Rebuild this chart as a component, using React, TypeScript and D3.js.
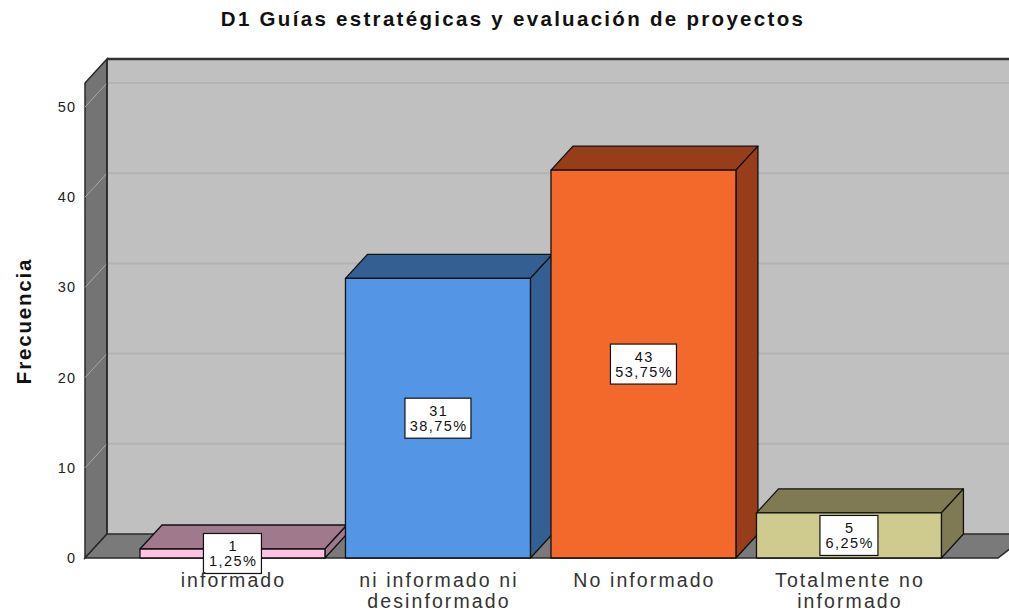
import * as d3 from "d3";

const categories = ["informado", "ni informado ni desinformado", "No informado", "Totalmente no informado"];
const labelLines = [["informado"], ["ni informado ni", "desinformado"], ["No informado"], ["Totalmente no", "informado"]];
const counts = [1, 31, 43, 5];
const percents = ["1,25%", "38,75%", "53,75%", "6,25%"];
const yTicks = [0, 10, 20, 30, 40, 50];
const frontColors = ["#ffc2e2", "#5595e6", "#f2692b", "#cfca8e"];
const shadeColors = ["#a07a8c", "#335f93", "#983d1a", "#7f7a53"];

const W = 1009;
const H = 615;
const DX = 22;
const DY = -24;

export default function App() {
  const y = d3.scaleLinear().domain([0, 50]).range([558, 107]);
  const x = d3
    .scaleBand<string>()
    .domain(categories)
    .range([129.7, 951.7])
    .paddingInner(0.1)
    .paddingOuter(0.05);

  const wallTop = 83;
  const floorY = y(0);
  const left = 85;
  const font = "'Liberation Sans', Arial, sans-serif";

  const pts = (p: [number, number][]) => p.map((d) => d.join(",")).join(" ");

  return (
    <svg width={W} height={H} style={{ position: "absolute", left: 0, top: 0, background: "#fff" }}>
      <text x={513} y={26} textAnchor="middle" fontFamily={font} fontWeight="bold" fontSize={20.5} letterSpacing={2.3} fill="#111">
        D1 Guías estratégicas y evaluación de proyectos
      </text>
      <text
        transform={`translate(31,${321}) rotate(-90)`}
        textAnchor="middle"
        fontFamily={font}
        fontWeight="bold"
        fontSize={20.5}
        letterSpacing={1.8}
        fill="#111"
      >
        Frecuencia
      </text>

      {/* back wall */}
      <rect x={left + DX} y={wallTop + DY} width={W} height={floorY - wallTop} fill="#c0c0c0" />
      {yTicks.slice(1).map((t) => (
        <line key={"g" + t} x1={left + DX} x2={W} y1={y(t) + DY} y2={y(t) + DY} stroke="#b2b2b2" strokeWidth={2} />
      ))}
      <line x1={left + DX} x2={W} y1={wallTop + DY} y2={wallTop + DY} stroke="#333" strokeWidth={2.5} />

      {/* left wall */}
      <polygon
        points={pts([[left, wallTop], [left + DX, wallTop + DY], [left + DX, floorY + DY], [left, floorY]])}
        fill="#747474"
        stroke="#2a2a2a"
        strokeWidth={1.5}
      />
      {yTicks.slice(1).map((t) => (
        <line key={"lg" + t} x1={left} x2={left + DX} y1={y(t)} y2={y(t) + DY} stroke="#a8a8a8" strokeWidth={1} />
      ))}

      {/* floor */}
      <polygon
        points={pts([[left, floorY], [left + DX, floorY + DY], [W + 20, floorY + DY], [998, floorY]])}
        fill="#7a7a7a"
        stroke="#2a2a2a"
        strokeWidth={1.5}
      />
      <line x1={left + DX} x2={left + DX} y1={wallTop + DY} y2={floorY + DY} stroke="#2a2a2a" strokeWidth={1.5} />

      {/* y tick labels */}
      {yTicks.map((t) => (
        <text key={"t" + t} x={76} y={y(t) + 5} textAnchor="end" fontFamily={font} fontSize={14.5} letterSpacing={1} fill="#222">
          {t}
        </text>
      ))}

      {/* bars */}
      {categories.map((c, i) => {
        const x0 = x(c)!;
        const x1 = x0 + x.bandwidth();
        const yt = y(counts[i]);
        return (
          <g key={c} stroke="#111" strokeWidth={1.3} strokeLinejoin="round">
            <polygon
              points={pts([[x0, yt], [x0 + DX, yt + DY], [x1 + DX, yt + DY], [x1, yt]])}
              fill={shadeColors[i]}
            />
            <polygon
              points={pts([[x1, yt], [x1 + DX, yt + DY], [x1 + DX, floorY + DY], [x1, floorY]])}
              fill={shadeColors[i]}
            />
            <rect x={x0} y={yt} width={x1 - x0} height={floorY - yt} fill={frontColors[i]} />
          </g>
        );
      })}

      {/* value labels */}
      {categories.map((c, i) => {
        const cx = x(c)! + x.bandwidth() / 2;
        const cy = (y(counts[i]) + floorY) / 2;
        const bw = percents[i].length > 5 ? 66 : 58;
        return (
          <g key={"l" + c}>
            <rect x={cx - bw / 2} y={cy - 20} width={bw} height={40} fill="#fff" stroke="#111" strokeWidth={1.2} />
            <text x={cx + 0.7} y={cy - 2} textAnchor="middle" fontFamily={font} fontSize={14.5} letterSpacing={1.4} fill="#111">
              {counts[i]}
            </text>
            <text x={cx + 0.7} y={cy + 13} textAnchor="middle" fontFamily={font} fontSize={14.5} letterSpacing={1.4} fill="#111">
              {percents[i]}
            </text>
          </g>
        );
      })}

      {/* category labels */}
      {categories.map((c, i) => (
        <text key={"c" + c} textAnchor="middle" fontFamily={font} fontSize={19.5} letterSpacing={2.1} fill="#333">
          {labelLines[i].map((l, j) => (
            <tspan key={j} x={x(c)! + x.bandwidth() / 2 + 1} y={587 + j * 21}>
              {l}
            </tspan>
          ))}
        </text>
      ))}
    </svg>
  );
}
